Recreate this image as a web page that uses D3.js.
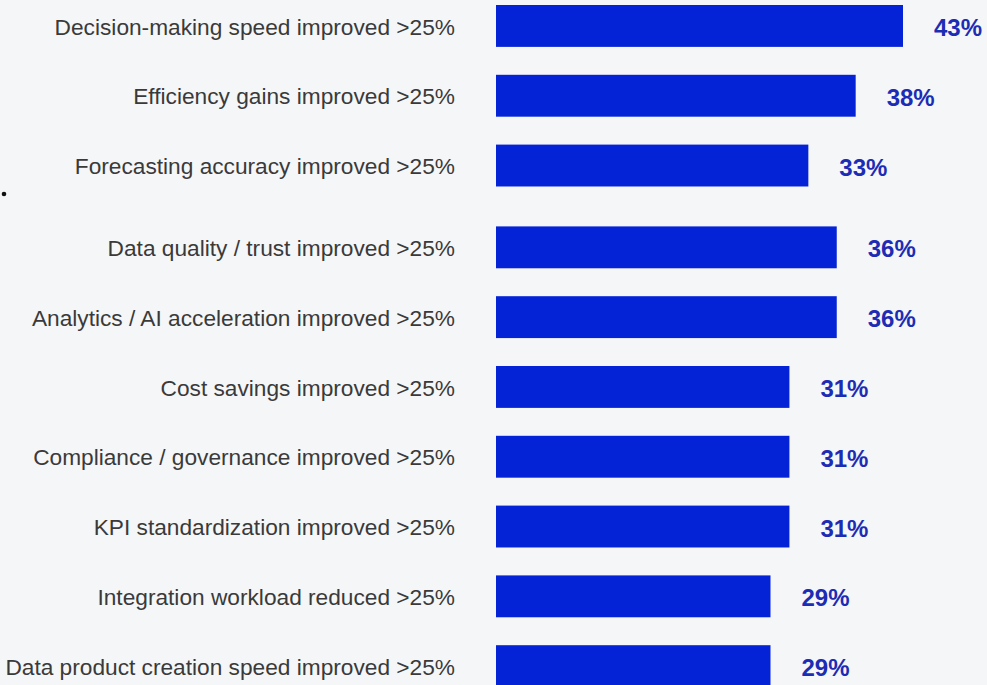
<!DOCTYPE html>
<html>
<head>
<meta charset="utf-8">
<script src="https://cdn.jsdelivr.net/npm/d3@7"></script>
<style>
  html, body { margin: 0; padding: 0; background: #f5f6f8; }
  svg { display: block; }
  .label { font-family: "Liberation Sans", Arial, sans-serif; font-size: 22.7px; fill: #3a3a3a; }
  .value { font-family: "Liberation Sans", Arial, sans-serif; font-size: 24px; font-weight: bold; fill: #1c2cb4; }
  .bar { fill: #0422d6; }
</style>
</head>
<body>
<svg class="barchartsvg" width="987" height="685"></svg>
<script>
var categories = [
  "Decision-making speed improved >25%",
  "Efficiency gains improved >25%",
  "Forecasting accuracy improved >25%",
  "Data quality / trust improved >25%",
  "Analytics / AI acceleration improved >25%",
  "Cost savings improved >25%",
  "Compliance / governance improved >25%",
  "KPI standardization improved >25%",
  "Integration workload reduced >25%",
  "Data product creation speed improved >25%"
];
var values = [43, 38, 33, 36, 36, 31, 31, 31, 29, 29];
var groups = [1, 1, 1, 2, 2, 2, 2, 2, 2, 2];

var margin = {top: 5, left: 496};
var groupGap = 12;
var step = 69.8;
var pad = 0.4;

var svg = d3.select(".barchartsvg");

var x = d3.scaleLinear()
    .domain([0, 43])
    .range([margin.left, 903]);

var y = d3.scaleBand()
    .domain(categories)
    .range([margin.top, margin.top + step * (categories.length - pad)])
    .paddingInner(pad)
    .paddingOuter(0);

function ypos(d, i) {
  return y(d) + (groups[i] - 1) * groupGap;
}

var rows = svg.append("g").attr("class", "rows")
  .selectAll("g")
  .data(categories)
  .enter().append("g");

rows.append("rect")
    .attr("class", "bar")
    .attr("x", x(0))
    .attr("y", function(d, i) { return ypos(d, i); })
    .attr("width", function(d, i) { return x(values[i]) - x(0); })
    .attr("height", y.bandwidth());

rows.append("text")
    .attr("class", "label")
    .attr("x", x(0) - 41)
    .attr("y", function(d, i) { return ypos(d, i) + y.bandwidth() / 2; })
    .attr("dy", ".38em")
    .style("text-anchor", "end")
    .text(function(d) { return d; });

rows.append("text")
    .attr("class", "value")
    .attr("x", function(d, i) { return x(values[i]) + 31; })
    .attr("y", function(d, i) { return ypos(d, i) + y.bandwidth() / 2; })
    .attr("dy", ".42em")
    .style("text-anchor", "start")
    .text(function(d, i) { return values[i] + "%"; });

// stray dot at the left edge
svg.append("circle")
    .attr("cx", 4)
    .attr("cy", 194)
    .attr("r", 2.3)
    .attr("fill", "#111");
</script>
</body>
</html>
